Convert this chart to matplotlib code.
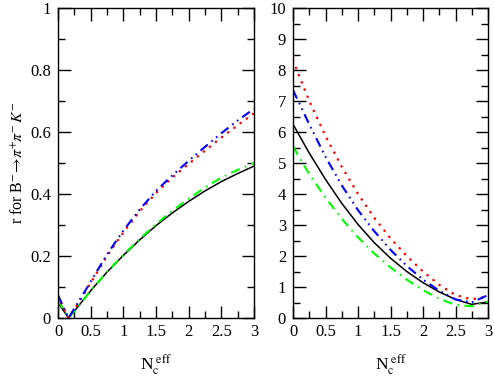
import numpy as np
import matplotlib
matplotlib.use("Agg")
import matplotlib.pyplot as plt
from matplotlib.ticker import MultipleLocator

plt.rcParams["font.family"] = ["Liberation Serif", "DejaVu Serif"]
plt.rcParams["mathtext.fontset"] = "stix"

# left panel: r for B- -> pi+ pi- K-
nc_left = [0.0, 0.16, 0.25, 0.5, 0.75, 1.0, 1.25, 1.5, 1.75, 2.0, 2.25, 2.5, 2.75, 3.0]
r_black = [0.050, 0.0, 0.022, 0.088, 0.148, 0.202, 0.252, 0.298, 0.339, 0.376, 0.410, 0.440, 0.466, 0.490]
r_green = [0.058, 0.0, 0.022, 0.088, 0.149, 0.204, 0.255, 0.303, 0.346, 0.385, 0.421, 0.453, 0.478, 0.500]
r_blue = [0.074, 0.0, 0.030, 0.117, 0.205, 0.282, 0.350, 0.410, 0.460, 0.507, 0.552, 0.596, 0.637, 0.675]
r_red = [0.070, 0.0, 0.028, 0.113, 0.200, 0.276, 0.344, 0.403, 0.453, 0.497, 0.540, 0.582, 0.622, 0.660]

# right panel
nc_right = [0.0, 0.25, 0.5, 0.75, 1.0, 1.25, 1.5, 1.75, 2.0, 2.25, 2.5, 2.75, 3.0]
b_black = [6.25, 5.32, 4.47, 3.70, 3.02, 2.43, 1.93, 1.50, 1.14, 0.84, 0.60, 0.44, 0.52]
b_blue = [7.35, 6.25, 5.20, 4.28, 3.48, 2.80, 2.20, 1.68, 1.24, 0.88, 0.60, 0.50, 0.74]
b_red = [8.30, 7.00, 5.87, 4.88, 4.00, 3.23, 2.57, 2.00, 1.50, 1.07, 0.74, 0.60, 0.70]
b_green = [5.53, 4.64, 3.88, 3.20, 2.60, 2.08, 1.63, 1.24, 0.90, 0.62, 0.42, 0.38, 0.53]

LW = 1.5
STYLES = {
    "black": dict(color="black", lw=1.1, ls="-"),
    "red": dict(color="#ff0000", lw=1.8, ls=(0, (0.1, 3.0)), dash_capstyle="round"),
    "blue": dict(color="#0000ff", lw=LW, ls=(0, (4.5, 2.3, 0.8, 2.1, 0.8, 2.3))),
    "green": dict(color="#00ff00", lw=LW, ls=(0, (4.5, 2.6, 0.8, 2.6))),
}


def style_axes(ax, ymax, ymajor, yminor):
    ax.set_xlim(0, 3)
    ax.set_ylim(0, ymax)
    ax.xaxis.set_major_locator(MultipleLocator(0.5))
    ax.xaxis.set_minor_locator(MultipleLocator(0.25))
    ax.yaxis.set_major_locator(MultipleLocator(ymajor))
    ax.yaxis.set_minor_locator(MultipleLocator(yminor))
    ax.tick_params(which="both", direction="in", top=True, right=True,
                   labelsize=12, width=1.0)
    ax.tick_params(which="major", length=9)
    ax.tick_params(which="minor", length=5)
    ax.tick_params(axis="y", pad=5)
    ax.tick_params(axis="x", pad=4)
    for s in ax.spines.values():
        s.set_linewidth(1.0)
    ax.set_xlabel(r"N$_\mathrm{c}^{\ \mathrm{eff}}$", fontsize=12.5, labelpad=9)


fig = plt.figure(figsize=(4.94, 3.82), dpi=100)
ax1 = fig.add_axes([58 / 494, 64 / 382, 196 / 494, 310 / 382])
ax2 = fig.add_axes([293 / 494, 64 / 382, 195 / 494, 310 / 382])

for key, ys in [("black", r_black), ("green", r_green), ("red", r_red), ("blue", r_blue)]:
    ax1.plot(nc_left, ys, **STYLES[key])
for key, ys in [("black", b_black), ("green", b_green), ("red", b_red), ("blue", b_blue)]:
    ax2.plot(nc_right, ys, **STYLES[key])

style_axes(ax1, 1.0, 0.2, 0.1)
style_axes(ax2, 10, 1, 0.5)
ax1.set_yticks([0, 0.2, 0.4, 0.6, 0.8, 1.0], ["0", "0.2", "0.4", "0.6", "0.8", "1"])
ax1.set_xticks([0, 0.5, 1, 1.5, 2, 2.5, 3], ["0", "0.5", "1", "1.5", "2", "2.5", "3"])
ax2.set_xticks([0, 0.5, 1, 1.5, 2, 2.5, 3], ["0", "0.5", "1", "1.5", "2", "2.5", "3"])
ax1.set_ylabel(r"r for B$^{-}\!\rightarrow\!\pi^{+}\!\pi^{-}\,K^{-}$", fontsize=11.5, labelpad=3)

fig.savefig("out.png", dpi=100)
